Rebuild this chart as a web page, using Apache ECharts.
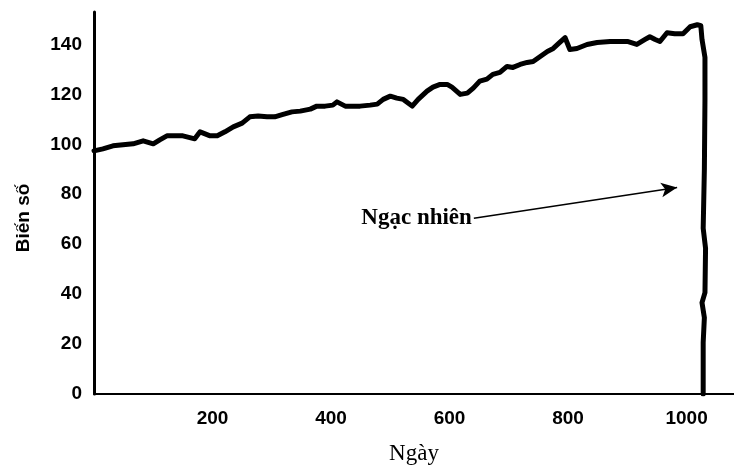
<!DOCTYPE html>
<html>
<head>
<meta charset="utf-8">
<script src="https://cdn.jsdelivr.net/npm/echarts@6/dist/echarts.min.js"></script>
<style>html,body{margin:0;padding:0;background:#fff;}#c{width:734px;height:470px;}</style>
</head>
<body>
<div id="c"></div>
<script>
// Day values (x) and variable values (y)
const days = [0,15,32,49,66,83,100,111,123,137,150,170,179,196,208,221,235,250,263,277,292,305,319,334,348,365,376,390,403,410,424,449,466,478,488,500,511,522,537,547,562,572,584,596,604,618,630,640,651,663,673,685,697,707,719,731,741,753,765,775,786,795,803,815,832,849,871,888,900,916,930,938,947,955,967,980,994,1006,1018,1024,1026,1031,1031,1030,1028,1032,1031,1026,1030,1028,1028];
const values = [97.4,98.2,99.4,99.8,100.2,101.4,100.2,101.8,103.4,103.4,103.4,102.2,105,103.4,103.4,105,107,108.5,111,111.3,111,111,112,113,113.3,114.1,115.3,115.3,115.7,117,115.3,115.3,115.7,116.1,118,119.3,118.5,118,115.3,118,121.3,122.9,124,124,122.9,120,120.5,122.5,125.3,126.1,128,128.8,131.2,130.8,132,132.8,133.2,135.2,137.2,138.4,140.8,142.7,138,138.4,140,140.8,141.2,141.2,141.2,140,142,143.1,142,141.2,144.7,144.3,144.3,147.1,147.9,147.5,142,134.8,118,90,66.4,58.4,40.6,36.6,30.6,20.7,0];
const xTicks = [200,400,600,800,1000];
const yTicks = [0,20,40,60,80,100,120,140];
const annotationText = 'Ngạc nhiên';
const arrowStart = [641, 70.4];
const arrowEnd = [984, 82.7];

const chart = echarts.init(document.getElementById('c'), null, {renderer:'canvas'});
const tickFont = {fontFamily:'Liberation Sans', fontWeight:'bold', fontSize:19, color:'#000'};
chart.setOption({
  animation:false,
  backgroundColor:'#fff',
  grid:{left:94, right:0, top:12, bottom:73},
  xAxis:{
    type:'value', min:0, max:1080, interval:200,
    name:'Ngày', nameLocation:'middle', nameGap:48,
    nameTextStyle:{fontFamily:'Liberation Serif', fontSize:23, color:'#000'},
    axisLine:{show:true, lineStyle:{color:'#000', width:2}},
    axisTick:{show:false}, splitLine:{show:false},
    axisLabel:Object.assign({margin:15, showMinLabel:false, showMaxLabel:false,
      formatter:v=>xTicks.includes(v)?String(v):''}, tickFont)
  },
  yAxis:{
    type:'value', min:0, max:153, interval:20,
    name:'Biến số', nameLocation:'middle', nameGap:61, nameRotate:90,
    nameTextStyle:{fontFamily:'Liberation Sans', fontWeight:'bold', fontSize:19, color:'#000', padding:[0,30,0,0]},
    axisLine:{show:true, onZero:false, lineStyle:{color:'#000', width:3}},
    axisTick:{show:false}, splitLine:{show:false},
    axisLabel:Object.assign({margin:12, showMaxLabel:false,
      formatter:v=>yTicks.includes(v)?String(v):''}, tickFont)
  },
  series:[
    {
      type:'line', data:days.map((d,i)=>[d,values[i]]),
      showSymbol:false, symbol:'none', smooth:false,
      lineStyle:{color:'#000', width:5, join:'round', cap:'round'},
      markLine:{
        silent:true, symbol:['none','arrow'], symbolSize:[11,16],
        label:{show:false},
        lineStyle:{color:'#000', width:1.5, type:'solid', opacity:1},
        data:[[{coord:arrowStart},{coord:arrowEnd}]]
      }
    },
    {
      type:'scatter', data:[arrowStart], symbolSize:0,
      itemStyle:{opacity:1},
      label:{show:true, position:'left', distance:2, formatter:annotationText,
        fontFamily:'Liberation Serif', fontWeight:'bold', fontSize:23, color:'#000', opacity:1}
    }
  ]
});
</script>
</body>
</html>
